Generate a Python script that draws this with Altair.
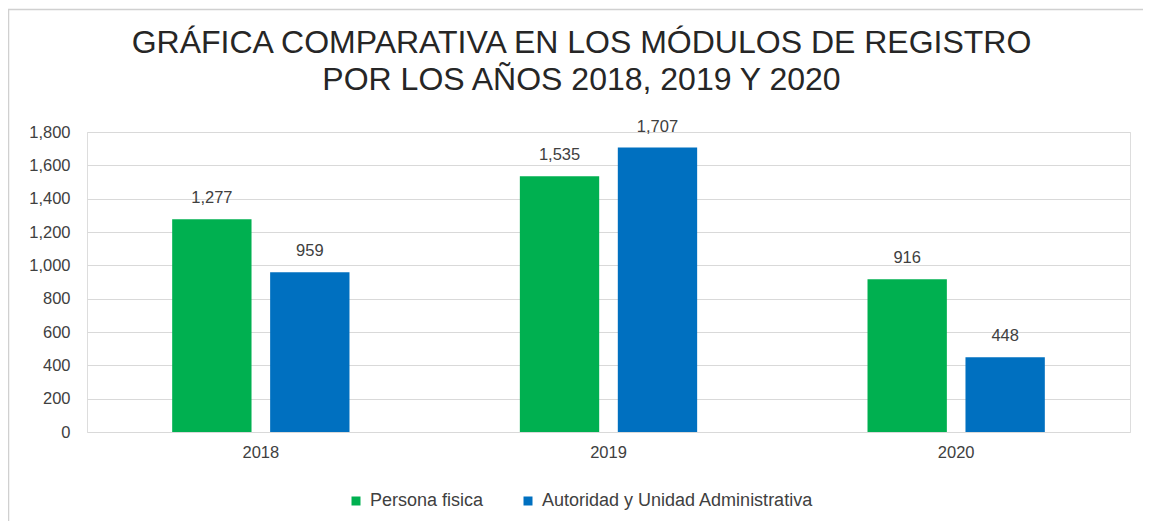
import altair as alt
import pandas as pd

years = ["2018", "2019", "2020"]
series = ["Persona fisica", "Autoridad y Unidad Administrativa"]
persona = [1277, 1535, 916]
autoridad = [959, 1707, 448]
colors = ["#00B050", "#0070C0"]
y_ticks = [0, 200, 400, 600, 800, 1000, 1200, 1400, 1600, 1800]

rows = []
for i, y in enumerate(years):
    rows.append({"year": y, "serie": series[0], "value": persona[i]})
    rows.append({"year": y, "serie": series[1], "value": autoridad[i]})
df = pd.DataFrame(rows)

FONT = "Liberation Sans"

x = alt.X("year:N", sort=years, title=None,
          scale=alt.Scale(paddingInner=0.49, paddingOuter=0.245),
          axis=alt.Axis(labelAngle=0, ticks=False, domain=False, labelPadding=12,
                        labelFontSize=16.5, labelColor="#404040", labelFont=FONT))
xo = alt.XOffset("serie:N", sort=series,
                 scale=alt.Scale(paddingInner=0.19, paddingOuter=0))
y = alt.Y("value:Q", title=None,
          scale=alt.Scale(domain=[0, 1800], nice=False),
          axis=alt.Axis(values=y_ticks, format=",d", ticks=False, domain=False,
                        labelPadding=17, labelFontSize=16.5, labelColor="#404040",
                        labelFont=FONT, gridColor="#D9D9D9", gridWidth=1))
color = alt.Color("serie:N", sort=series, title=None,
                  scale=alt.Scale(domain=series, range=colors),
                  legend=alt.Legend(orient="none", direction="horizontal",
                                    legendX=260, legendY=360, symbolType="square",
                                    symbolSize=81, symbolStrokeWidth=0,
                                    labelFontSize=18, labelColor="#404040",
                                    labelFont=FONT, labelOffset=5, labelLimit=0,
                                    columnPadding=35))

base = alt.Chart(df)
bars = base.mark_bar().encode(x=x, xOffset=xo, y=y, color=color)
labels = base.mark_text(dy=-16, fontSize=16.5, color="#404040",
                        font=FONT, baseline="alphabetic").encode(
    x=x, xOffset=xo, y=y, text=alt.Text("value:Q", format=",d"))

border = alt.Chart(pd.DataFrame({"a": [0]})).mark_rect(
    fill=None, stroke="#D0D0D0", strokeWidth=1.5, clip=False).encode(
    x=alt.value(-78.5), x2=alt.value(1300), y=alt.value(-122.5), y2=alt.value(600))

chart = alt.layer(border, bars, labels).properties(
    width=1043, height=300,
    autosize=alt.AutoSizeParams(type="none"),
    padding={"left": 79, "top": 124, "right": 13, "bottom": 89},
    title=alt.Title(["GRÁFICA COMPARATIVA EN LOS MÓDULOS DE REGISTRO",
                     "POR LOS AÑOS 2018, 2019 Y 2020"],
                    fontSize=32, font=FONT, fontWeight="normal",
                    color="#262626", lineHeight=37, offset=-113, dx=-27,
                    baseline="alphabetic", frame="group", anchor="middle"),
).configure_view(stroke=None).configure(background="white")

chart.save("out.html", embed_options={"renderer": "svg", "actions": False})
